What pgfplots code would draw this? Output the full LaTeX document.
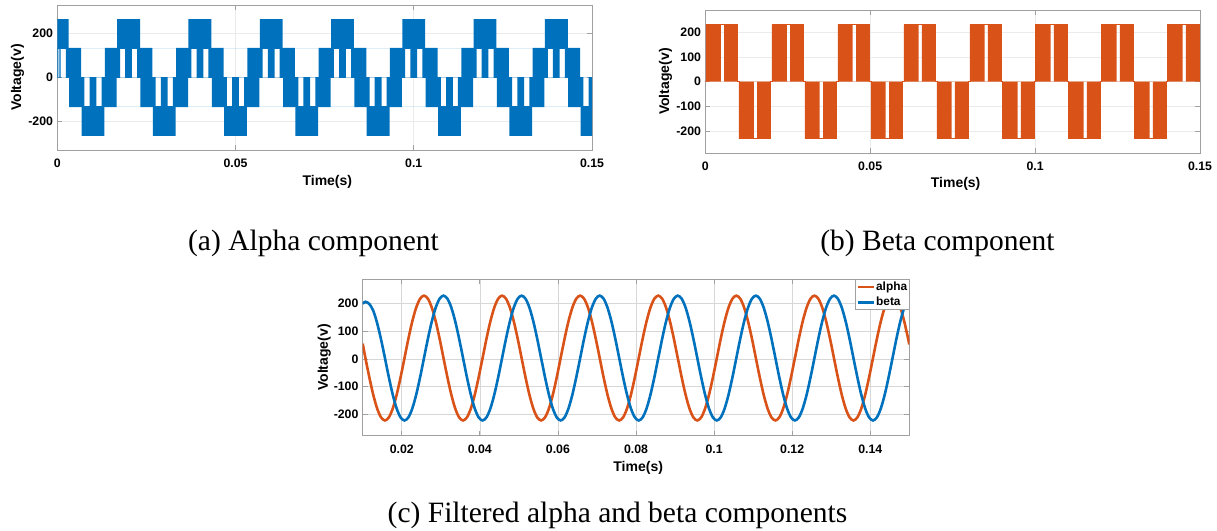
\documentclass[border=0pt]{standalone}
\usepackage{fontspec}
\setmainfont{Liberation Serif}
\setsansfont{Liberation Sans}
\usepackage{pgfplots}
\pgfplotsset{compat=1.18}
\usepackage{pgfplotstable}

\definecolor{mblue}{HTML}{0072BD}
\definecolor{morange}{HTML}{D95319}
\definecolor{boxgray}{HTML}{A0A0A0}
\definecolor{gridlight}{HTML}{EBEBEB}
\definecolor{gridmid}{HTML}{D7D7D7}

\newcommand\tickfont{\fontsize{12.3bp}{14bp}\selectfont\sffamily\bfseries}
\newcommand\labfont{\fontsize{14bp}{16bp}\selectfont\sffamily\bfseries}
\newcommand\legfont{\fontsize{11.9bp}{13bp}\selectfont\sffamily\bfseries}
\newcommand\capfont{\fontsize{29.5bp}{34bp}\selectfont\rmfamily}

\pgfplotsset{
  mlab/.style={
    scale only axis,
    axis line style={draw=boxgray, line width=0.7bp},
    grid=major,
    tick style={draw=boxgray, line width=0.7bp},
    major tick length=5bp,
    tick align=inside,
    tick label style={font=\tickfont, text=black},
    yticklabel style={xshift=-0.8bp},
    xticklabel style={yshift=-5.5bp},
    label style={font=\labfont},
  },
}

% filtered signals (time in ms, voltage in V)
\pgfplotstableread{
t a b
10.0 55 199
10.7 3 206
11.7 -66.5 198
12.7 -129.3 174
13.7 -179.0 129
14.7 -211.0 70
15.7 -222 3
16.7 -211.0 -66.5
17.7 -179.0 -129.3
18.7 -129.3 -179.0
19.7 -66.5 -211.0
20.7 3 -222
21.7 72.5 -211.0
22.7 135.3 -179.0
23.7 185.0 -129.3
24.7 217.0 -66.5
25.7 228 3
26.7 217.0 72.5
27.7 185.0 135.3
28.7 135.3 185.0
29.7 72.5 217.0
30.7 3 228
31.7 -66.5 217.0
32.7 -129.3 185.0
33.7 -179.0 135.3
34.7 -211.0 72.5
35.7 -222 3
36.7 -211.0 -66.5
37.7 -179.0 -129.3
38.7 -129.3 -179.0
39.7 -66.5 -211.0
40.7 3 -222
41.7 72.5 -211.0
42.7 135.3 -179.0
43.7 185.0 -129.3
44.7 217.0 -66.5
45.7 228 3
46.7 217.0 72.5
47.7 185.0 135.3
48.7 135.3 185.0
49.7 72.5 217.0
50.7 3 228
51.7 -66.5 217.0
52.7 -129.3 185.0
53.7 -179.0 135.3
54.7 -211.0 72.5
55.7 -222 3
56.7 -211.0 -66.5
57.7 -179.0 -129.3
58.7 -129.3 -179.0
59.7 -66.5 -211.0
60.7 3 -222
61.7 72.5 -211.0
62.7 135.3 -179.0
63.7 185.0 -129.3
64.7 217.0 -66.5
65.7 228 3
66.7 217.0 72.5
67.7 185.0 135.3
68.7 135.3 185.0
69.7 72.5 217.0
70.7 3 228
71.7 -66.5 217.0
72.7 -129.3 185.0
73.7 -179.0 135.3
74.7 -211.0 72.5
75.7 -222 3
76.7 -211.0 -66.5
77.7 -179.0 -129.3
78.7 -129.3 -179.0
79.7 -66.5 -211.0
80.7 3 -222
81.7 72.5 -211.0
82.7 135.3 -179.0
83.7 185.0 -129.3
84.7 217.0 -66.5
85.7 228 3
86.7 217.0 72.5
87.7 185.0 135.3
88.7 135.3 185.0
89.7 72.5 217.0
90.7 3 228
91.7 -66.5 217.0
92.7 -129.3 185.0
93.7 -179.0 135.3
94.7 -211.0 72.5
95.7 -222 3
96.7 -211.0 -66.5
97.7 -179.0 -129.3
98.7 -129.3 -179.0
99.7 -66.5 -211.0
100.7 3 -222
101.7 72.5 -211.0
102.7 135.3 -179.0
103.7 185.0 -129.3
104.7 217.0 -66.5
105.7 228 3
106.7 217.0 72.5
107.7 185.0 135.3
108.7 135.3 185.0
109.7 72.5 217.0
110.7 3 228
111.7 -66.5 217.0
112.7 -129.3 185.0
113.7 -179.0 135.3
114.7 -211.0 72.5
115.7 -222 3
116.7 -211.0 -66.5
117.7 -179.0 -129.3
118.7 -129.3 -179.0
119.7 -66.5 -211.0
120.7 3 -222
121.7 72.5 -211.0
122.7 135.3 -179.0
123.7 185.0 -129.3
124.7 217.0 -66.5
125.7 228 3
126.7 217.0 72.5
127.7 185.0 135.3
128.7 135.3 185.0
129.7 72.5 217.0
130.7 3 228
131.7 -66.5 217.0
132.7 -129.3 185.0
133.7 -179.0 135.3
134.7 -211.0 72.5
135.7 -222 3
136.7 -211.0 -66.5
137.7 -179.0 -129.3
138.7 -129.3 -179.0
139.7 -66.5 -211.0
140.7 3 -222
141.7 72.5 -211.0
142.7 135.3 -179.0
143.7 185.0 -129.3
144.7 217.0 -66.5
145.7 228 3
146.7 217.0 72.5
147.7 185.0 135.3
148.7 135.3 185.0
149.7 72.5 217.0
150.0 52 222.6
}\filt

\begin{document}
\begin{tikzpicture}
\useasboundingbox (0bp,0bp) rectangle (1217bp,531bp);

% ---------------- (a) alpha component ----------------
\begin{axis}[mlab, at={(57.3bp,381bp)}, anchor=south west,
  width=534.7bp, height=145bp,
  xmin=0, xmax=150, ymin=-331, ymax=331,
  xtick={0,50,100,150}, xticklabels={0,0.05,0.1,0.15},
  ytick={-200,0,200}, yticklabels={-200,0,200},
  major grid style={draw=gridlight, line width=0.6bp},
  xlabel={Time(s)}, ylabel={Voltage(v)},
  xlabel style={at={(axis description cs:0.505,-0.217)}, anchor=center},
  ylabel style={at={(axis description cs:-0.0744,0.5)}, anchor=center}]
% band 133..267
\addplot[draw=none, fill=mblue] coordinates {
(0,131)(0,266.7)(3.2,266.7)(3.2,131)
(16.8,131)(16.8,266.7)(23.2,266.7)(23.2,131)
(36.8,131)(36.8,266.7)(43.2,266.7)(43.2,131)
(56.8,131)(56.8,266.7)(63.2,266.7)(63.2,131)
(76.8,131)(76.8,266.7)(83.2,266.7)(83.2,131)
(96.8,131)(96.8,266.7)(103.2,266.7)(103.2,131)
(116.8,131)(116.8,266.7)(123.2,266.7)(123.2,131)
(136.8,131)(136.8,266.7)(143.2,266.7)(143.2,131)};
% band 0..133
\addplot[draw=none, fill=mblue] coordinates {
(0,-2)(0,135)(0.3,135)(0.3,-2)
(0.6,-2)(0.6,135)(0.95,135)(0.95,-2)
(2.4,-2)(2.4,135)(6.67,135)(6.67,-2)
(13.33,-2)(13.33,135)(17.6,135)(17.6,-2)
(19.05,-2)(19.05,135)(20.95,135)(20.95,-2)
(22.4,-2)(22.4,135)(26.67,135)(26.67,-2)
(33.33,-2)(33.33,135)(37.6,135)(37.6,-2)
(39.05,-2)(39.05,135)(40.95,135)(40.95,-2)
(42.4,-2)(42.4,135)(46.67,135)(46.67,-2)
(53.33,-2)(53.33,135)(57.6,135)(57.6,-2)
(59.05,-2)(59.05,135)(60.95,135)(60.95,-2)
(62.4,-2)(62.4,135)(66.67,135)(66.67,-2)
(73.33,-2)(73.33,135)(77.6,135)(77.6,-2)
(79.05,-2)(79.05,135)(80.95,135)(80.95,-2)
(82.4,-2)(82.4,135)(86.67,135)(86.67,-2)
(93.33,-2)(93.33,135)(97.6,135)(97.6,-2)
(99.05,-2)(99.05,135)(100.95,135)(100.95,-2)
(102.4,-2)(102.4,135)(106.67,135)(106.67,-2)
(113.33,-2)(113.33,135)(117.6,135)(117.6,-2)
(119.05,-2)(119.05,135)(120.95,135)(120.95,-2)
(122.4,-2)(122.4,135)(126.67,135)(126.67,-2)
(133.33,-2)(133.33,135)(137.6,135)(137.6,-2)
(139.05,-2)(139.05,135)(140.95,135)(140.95,-2)
(142.4,-2)(142.4,135)(146.67,135)(146.67,-2)};
% band -133..0
\addplot[draw=none, fill=mblue] coordinates {
(3.33,2)(3.33,-135)(7.6,-135)(7.6,2)
(9.05,2)(9.05,-135)(10.95,-135)(10.95,2)
(12.4,2)(12.4,-135)(16.67,-135)(16.67,2)
(23.33,2)(23.33,-135)(27.6,-135)(27.6,2)
(29.05,2)(29.05,-135)(30.95,-135)(30.95,2)
(32.4,2)(32.4,-135)(36.67,-135)(36.67,2)
(43.33,2)(43.33,-135)(47.6,-135)(47.6,2)
(49.05,2)(49.05,-135)(50.95,-135)(50.95,2)
(52.4,2)(52.4,-135)(56.67,-135)(56.67,2)
(63.33,2)(63.33,-135)(67.6,-135)(67.6,2)
(69.05,2)(69.05,-135)(70.95,-135)(70.95,2)
(72.4,2)(72.4,-135)(76.67,-135)(76.67,2)
(83.33,2)(83.33,-135)(87.6,-135)(87.6,2)
(89.05,2)(89.05,-135)(90.95,-135)(90.95,2)
(92.4,2)(92.4,-135)(96.67,-135)(96.67,2)
(103.33,2)(103.33,-135)(107.6,-135)(107.6,2)
(109.05,2)(109.05,-135)(110.95,-135)(110.95,2)
(112.4,2)(112.4,-135)(116.67,-135)(116.67,2)
(123.33,2)(123.33,-135)(127.6,-135)(127.6,2)
(129.05,2)(129.05,-135)(130.95,-135)(130.95,2)
(132.4,2)(132.4,-135)(136.67,-135)(136.67,2)
(143.33,2)(143.33,-135)(147.6,-135)(147.6,2)
(149.05,2)(149.05,-135)(150,-135)(150,2)};
% band -267..-133
\addplot[draw=none, fill=mblue] coordinates {
(6.8,-131)(6.8,-266.7)(13.2,-266.7)(13.2,-131)
(26.8,-131)(26.8,-266.7)(33.2,-266.7)(33.2,-131)
(46.8,-131)(46.8,-266.7)(53.2,-266.7)(53.2,-131)
(66.8,-131)(66.8,-266.7)(73.2,-266.7)(73.2,-131)
(86.8,-131)(86.8,-266.7)(93.2,-266.7)(93.2,-131)
(106.8,-131)(106.8,-266.7)(113.2,-266.7)(113.2,-131)
(126.8,-131)(126.8,-266.7)(133.2,-266.7)(133.2,-131)
(146.8,-131)(146.8,-266.7)(150,-266.7)(150,-131)};
\end{axis}

% ---------------- (b) beta component ----------------
\begin{axis}[mlab, at={(705.3bp,377.7bp)}, anchor=south west,
  width=494.7bp, height=143.3bp,
  xmin=0, xmax=150, ymin=-290, ymax=290,
  xtick={0,50,100,150}, xticklabels={0,0.05,0.1,0.15},
  ytick={-200,-100,0,100,200}, yticklabels={-200,-100,0,100,200},
  major grid style={draw=gridlight, line width=0.6bp},
  xlabel={Time(s)}, ylabel={Voltage(v)},
  xlabel style={at={(axis description cs:0.506,-0.214)}, anchor=center},
  ylabel style={at={(axis description cs:-0.0805,0.5)}, anchor=center}]
\addplot[draw=none, fill=morange] coordinates {
(0.2,0)(0.2,231)(4.7,231)(4.7,0)
(5.7,0)(5.7,231)(9.85,231)(9.85,0)
(20.2,0)(20.2,231)(24.7,231)(24.7,0)
(25.7,0)(25.7,231)(29.85,231)(29.85,0)
(40.2,0)(40.2,231)(44.7,231)(44.7,0)
(45.7,0)(45.7,231)(49.85,231)(49.85,0)
(60.2,0)(60.2,231)(64.7,231)(64.7,0)
(65.7,0)(65.7,231)(69.85,231)(69.85,0)
(80.2,0)(80.2,231)(84.7,231)(84.7,0)
(85.7,0)(85.7,231)(89.85,231)(89.85,0)
(100.2,0)(100.2,231)(104.7,231)(104.7,0)
(105.7,0)(105.7,231)(109.85,231)(109.85,0)
(120.2,0)(120.2,231)(124.7,231)(124.7,0)
(125.7,0)(125.7,231)(129.85,231)(129.85,0)
(140.2,0)(140.2,231)(144.7,231)(144.7,0)
(145.7,0)(145.7,231)(149.85,231)(149.85,0)};
\addplot[draw=none, fill=morange] coordinates {
(10.2,0)(10.2,-231)(14.7,-231)(14.7,0)
(15.7,0)(15.7,-231)(19.85,-231)(19.85,0)
(30.2,0)(30.2,-231)(34.7,-231)(34.7,0)
(35.7,0)(35.7,-231)(39.85,-231)(39.85,0)
(50.2,0)(50.2,-231)(54.7,-231)(54.7,0)
(55.7,0)(55.7,-231)(59.85,-231)(59.85,0)
(70.2,0)(70.2,-231)(74.7,-231)(74.7,0)
(75.7,0)(75.7,-231)(79.85,-231)(79.85,0)
(90.2,0)(90.2,-231)(94.7,-231)(94.7,0)
(95.7,0)(95.7,-231)(99.85,-231)(99.85,0)
(110.2,0)(110.2,-231)(114.7,-231)(114.7,0)
(115.7,0)(115.7,-231)(119.85,-231)(119.85,0)
(130.2,0)(130.2,-231)(134.7,-231)(134.7,0)
(135.7,0)(135.7,-231)(139.85,-231)(139.85,0)};
\addplot[morange, line width=0.6bp] coordinates {
(0,0)(0.2,0)(0.2,231)(9.85,231)(9.85,0)(10.2,0)(10.2,-231)(19.85,-231)(19.85,0)
(20.2,0)(20.2,231)(29.85,231)(29.85,0)(30.2,0)(30.2,-231)(39.85,-231)(39.85,0)
(40.2,0)(40.2,231)(49.85,231)(49.85,0)(50.2,0)(50.2,-231)(59.85,-231)(59.85,0)
(60.2,0)(60.2,231)(69.85,231)(69.85,0)(70.2,0)(70.2,-231)(79.85,-231)(79.85,0)
(80.2,0)(80.2,231)(89.85,231)(89.85,0)(90.2,0)(90.2,-231)(99.85,-231)(99.85,0)
(100.2,0)(100.2,231)(109.85,231)(109.85,0)(110.2,0)(110.2,-231)(119.85,-231)(119.85,0)
(120.2,0)(120.2,231)(129.85,231)(129.85,0)(130.2,0)(130.2,-231)(139.85,-231)(139.85,0)
(140.2,0)(140.2,231)(149.85,231)(149.85,0)(150,0)};
\end{axis}

% ---------------- (c) filtered components ----------------
\begin{axis}[mlab, at={(362.7bp,95.3bp)}, anchor=south west,
  width=546.6bp, height=156.4bp,
  xmin=10, xmax=150, ymin=-277, ymax=287,
  xtick={20,40,60,80,100,120,140},
  xticklabels={0.02,0.04,0.06,0.08,0.1,0.12,0.14},
  ytick={-200,-100,0,100,200}, yticklabels={-200,-100,0,100,200},
  major grid style={draw=gridmid, line width=0.6bp},
  xlabel={Time(s)}, ylabel={Voltage(v)},
  xlabel style={at={(axis description cs:0.504,-0.205)}, anchor=center},
  ylabel style={at={(axis description cs:-0.0704,0.5)}, anchor=center},
  legend style={at={(rel axis cs:1,1)}, anchor=north east, draw=boxgray,
    line width=0.6bp, fill=white, font=\legfont, inner xsep=1.2bp, inner ysep=0.3bp,
    row sep=1bp, column sep=0bp,
    nodes={inner xsep=0.6bp, inner ysep=1.5bp, text height=8.7bp, text depth=2.5bp},
    cells={anchor=west}},
  legend image code/.code={\draw[#1, line width=2.8bp] (0bp,0bp) -- (16bp,0bp);}]
\addplot[morange, line width=2.6bp, smooth] table[x=t, y=a] {\filt};
\addlegendentry{alpha}
\addplot[mblue, line width=2.6bp, smooth] table[x=t, y=b] {\filt};
\addlegendentry{beta}
\end{axis}

% ---------------- captions ----------------
\node[font=\capfont] at (313.5bp,288bp) {(a) Alpha component};
\node[font=\capfont] at (937.5bp,288bp) {(b) Beta component};
\node[font=\capfont] at (617.5bp,16bp) {(c) Filtered alpha and beta components};
\end{tikzpicture}
\end{document}
